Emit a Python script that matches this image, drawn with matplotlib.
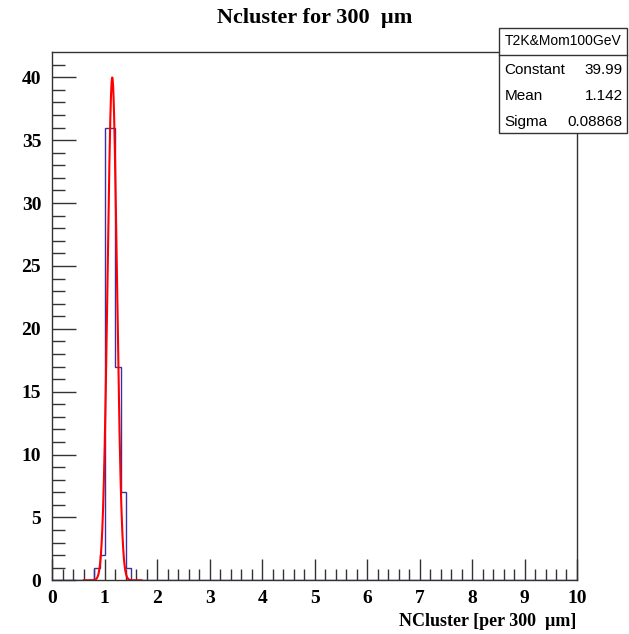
import numpy as np
import matplotlib.pyplot as plt
from matplotlib.ticker import MultipleLocator

# histogram bins (width 0.1) with non-zero content
bin_centers = [0.85, 0.95, 1.05, 1.15, 1.25, 1.35, 1.45]
bin_counts = [1, 2, 36, 36, 17, 7, 1]
bin_edges = np.arange(0, 10.0001, 0.1)

# gaussian fit results
fit_const = 39.99
fit_mean = 1.142
fit_sigma = 0.08868

fig = plt.figure(figsize=(6.29, 6.34), dpi=100)
ax = fig.add_axes([0.0832, 0.0847, 0.8341, 0.8328])

ax.hist(bin_centers, bins=bin_edges, weights=bin_counts, histtype='step',
        color='#3a30a0', lw=1.0)

xf = np.linspace(0.6, 1.7, 400)
yf = fit_const * np.exp(-0.5 * ((xf - fit_mean) / fit_sigma) ** 2)
ax.plot(xf, yf, color='#ff0000', lw=1.5)

ax.set_xlim(0, 10)
ax.set_ylim(0, 41.99)

serif = 'Liberation Serif'
ax.xaxis.set_major_locator(MultipleLocator(1))
ax.xaxis.set_minor_locator(MultipleLocator(0.2))
ax.yaxis.set_major_locator(MultipleLocator(5))
ax.yaxis.set_minor_locator(MultipleLocator(1))
ax.tick_params(which='both', direction='in', top=False, right=False, width=1.0, color='#333333')
ax.tick_params(axis='x', which='major', length=15, pad=7)
ax.tick_params(axis='x', which='minor', length=8)
ax.tick_params(axis='y', which='major', length=17, pad=8)
ax.tick_params(axis='y', which='minor', length=9)
for lab in ax.get_xticklabels() + ax.get_yticklabels():
    lab.set_fontfamily(serif)
    lab.set_fontweight('bold')
    lab.set_fontsize(14)
for s in ax.spines.values():
    s.set_color('#333333')
    s.set_linewidth(1.0)

fig.text(0.5, 0.972, 'Ncluster for 300  \u00b5m', ha='center', va='center',
         fontfamily=serif, fontweight='bold', fontsize=16)
fig.text(0.917, 0.019, 'NCluster [per 300  \u00b5m]', ha='right', va='center',
         fontfamily=serif, fontweight='bold', fontsize=13)

# stats box
bx0, bx1 = 499 / 629, 627 / 629
by0, by1 = 1 - 133 / 634, 1 - 28 / 634
fig.patches.append(plt.Rectangle((bx0, by0), bx1 - bx0, by1 - by0, transform=fig.transFigure,
                                 facecolor='white', edgecolor='#333333', lw=1.0, zorder=5))
ysep = 1 - 55 / 634
fig.lines.append(plt.Line2D([bx0, bx1], [ysep, ysep], transform=fig.transFigure,
                            color='#333333', lw=1.0, zorder=6))
fig.text((bx0 + bx1) / 2, 1 - 41 / 634, 'T2K&Mom100GeV', ha='center', va='center',
         fontfamily='Liberation Sans', fontsize=10, zorder=7)
rows = [('Constant', '39.99'), ('Mean', '1.142'), ('Sigma', '0.08868')]
for i, (name, val) in enumerate(rows):
    yy = 1 - (70 + 26 * i) / 634
    fig.text(bx0 + 0.009, yy, name, ha='left', va='center',
             fontfamily='Liberation Sans', fontsize=11, zorder=7)
    fig.text(bx1 - 0.007, yy, val, ha='right', va='center',
             fontfamily='Liberation Sans', fontsize=11, zorder=7)

fig.savefig('out.png', dpi=100)
